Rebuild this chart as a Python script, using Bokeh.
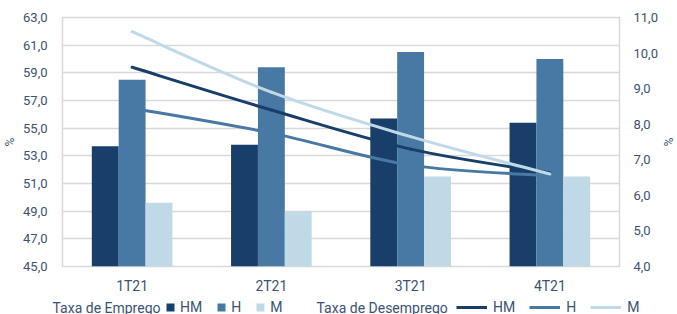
from bokeh.plotting import figure
from bokeh.layouts import column
from bokeh.core.properties import value
from bokeh.models import (Range1d, LinearAxis, FixedTicker, Legend, LegendItem,
                          CustomJSTickFormatter, ColumnDataSource)
from bokeh.embed import file_html
from bokeh.resources import INLINE

# ---------------- data ----------------
categories = ["1T21", "2T21", "3T21", "4T21"]
emprego_hm = [53.7, 53.8, 55.7, 55.4]
emprego_h = [58.5, 59.4, 60.5, 60.0]
emprego_m = [49.6, 49.0, 51.5, 51.5]
desemprego_hm = [9.6, 8.4, 7.3, 6.63]
desemprego_h = [8.45, 7.75, 6.85, 6.55]
desemprego_m = [10.6, 8.9, 7.65, 6.6]
left_ticks = [45, 47, 49, 51, 53, 55, 57, 59, 61, 63]
right_ticks = [4, 5, 6, 7, 8, 9, 10, 11]
series_labels = ["HM", "H", "M"]
legend_titles = ["Taxa de Emprego", "Taxa de Desemprego"]

# ---------------- style ----------------
C_HM = "#173F6A"
C_H = "#4878A4"
C_M = "#BFD9E6"
TXT = "#3C5272"
GRID = "#D9D9D9"
FONT = "Roboto"
W = 677

p = figure(width=W, height=296, x_range=Range1d(0, len(categories)),
           y_range=Range1d(left_ticks[0], left_ticks[-1]),
           output_backend="svg", toolbar_location=None,
           min_border_left=62, min_border_right=48, min_border_top=17, min_border_bottom=29)
p.frame_align = False
p.extra_y_ranges = {"rate": Range1d(right_ticks[0], right_ticks[-1])}

p.outline_line_color = GRID
p.outline_line_width = 1.5
p.xgrid.grid_line_color = None
p.ygrid.grid_line_color = GRID
p.ygrid.grid_line_width = 1.5
p.ygrid.ticker = FixedTicker(ticks=left_ticks)

fmt = CustomJSTickFormatter(code="return tick.toFixed(1).replace('.', ',');")

la = p.left[0]
la.ticker = FixedTicker(ticks=left_ticks)
la.formatter = fmt
la.axis_label = "%"
la.axis_label_standoff = 3

ra = LinearAxis(y_range_name="rate", ticker=FixedTicker(ticks=right_ticks), formatter=fmt,
                axis_label="%", axis_label_standoff=0)
p.add_layout(ra, "right")

xa = p.below[0]
xa.ticker = FixedTicker(ticks=[i + 0.5 for i in range(len(categories))])
xa.formatter = CustomJSTickFormatter(args=dict(labels=categories),
                                     code="return labels[Math.floor(tick)];")

for ax in (la, ra, xa):
    ax.axis_line_color = None
    ax.major_tick_line_color = None
    ax.minor_tick_line_color = None
    ax.major_label_text_font = FONT
    ax.major_label_text_color = TXT
    ax.axis_label_text_font = FONT
    ax.axis_label_text_color = TXT
    ax.axis_label_text_font_style = "normal"
    ax.axis_label_text_font_size = "12px"
la.major_label_text_font_size = "13px"
ra.major_label_text_font_size = "13px"
la.major_label_standoff = 9
ra.major_label_standoff = 8
xa.major_label_text_font_size = "14px"
xa.major_label_standoff = 5

# ---------------- bars ----------------
bw = 0.193
centers = [i + 0.5 for i in range(len(categories))]
bar_series = [emprego_hm, emprego_h, emprego_m]
colors = [C_HM, C_H, C_M]
for k, (vals, col) in enumerate(zip(bar_series, colors)):
    off = (k - 1) * bw
    src = ColumnDataSource(dict(x=[c + off for c in centers], top=vals))
    p.vbar(x="x", top="top", bottom=left_ticks[0], width=bw, source=src,
           fill_color=col, line_color=None)

# ---------------- smoothed lines (bezier through the data points) ----------------
def bezier_source(xv, yv):
    n = len(xv)
    d = dict(x0=[], y0=[], x1=[], y1=[], cx0=[], cy0=[], cx1=[], cy1=[])
    for i in range(n - 1):
        a = max(i - 1, 0)
        b = min(i + 2, n - 1)
        d["x0"].append(xv[i]); d["y0"].append(yv[i])
        d["x1"].append(xv[i + 1]); d["y1"].append(yv[i + 1])
        d["cx0"].append(xv[i] + (xv[i + 1] - xv[a]) / 6.0)
        d["cy0"].append(yv[i] + (yv[i + 1] - yv[a]) / 6.0)
        d["cx1"].append(xv[i + 1] - (xv[b] - xv[i]) / 6.0)
        d["cy1"].append(yv[i + 1] - (yv[b] - yv[i]) / 6.0)
    return ColumnDataSource(d)

line_series = [desemprego_hm, desemprego_h, desemprego_m]
for vals, col in zip(line_series, colors):
    p.bezier(x0="x0", y0="y0", x1="x1", y1="y1", cx0="cx0", cy0="cy0",
             cx1="cx1", cy1="cy1", source=bezier_source(centers, vals),
             y_range_name="rate", line_color=col, line_width=3, line_cap="round")

# ---------------- legend strip (separate small figure, pixel coordinates) ----------------
LH = 18
lf = figure(width=W, height=LH, x_range=Range1d(0, W), y_range=Range1d(0, LH),
            output_backend="svg", toolbar_location=None,
            x_axis_type=None, y_axis_type=None, min_border=0)
lf.frame_align = False
lf.outline_line_color = None
lf.xgrid.grid_line_color = None
lf.ygrid.grid_line_color = None

# zero-size key glyphs: they only provide the legend swatches
bar_keys = [lf.vbar(x=[0], top=[0], bottom=0, width=0, fill_color=c, line_color=None)
            for c in colors]
line_keys = [lf.line(x=[0], y=[0], line_color=c, line_width=3) for c in colors]

lf.text(x=[52, 316], y=[7, 7], text=legend_titles,
        text_font=value(FONT), text_font_size="14px", text_color=TXT,
        text_baseline="middle", text_align="left")

def make_legend(renderers, gw, standoff, vx):
    return Legend(items=[LegendItem(label=lab, renderers=[r]) for lab, r in zip(series_labels, renderers)],
                  orientation="horizontal", location=(vx, -1),
                  glyph_width=gw, glyph_height=10, label_standoff=standoff, spacing=14,
                  padding=0, margin=0, border_line_color=None, background_fill_alpha=0,
                  label_text_font=FONT, label_text_font_size="14px", label_text_color=TXT,
                  label_height=16, label_width=0, inactive_fill_alpha=0)

lf.add_layout(make_legend(bar_keys, 10, 5, 165))
lf.add_layout(make_legend(line_keys, 31, 6, 456))

layout = column(p, lf, spacing=0)
open("out.html", "w").write(file_html(layout, INLINE))
